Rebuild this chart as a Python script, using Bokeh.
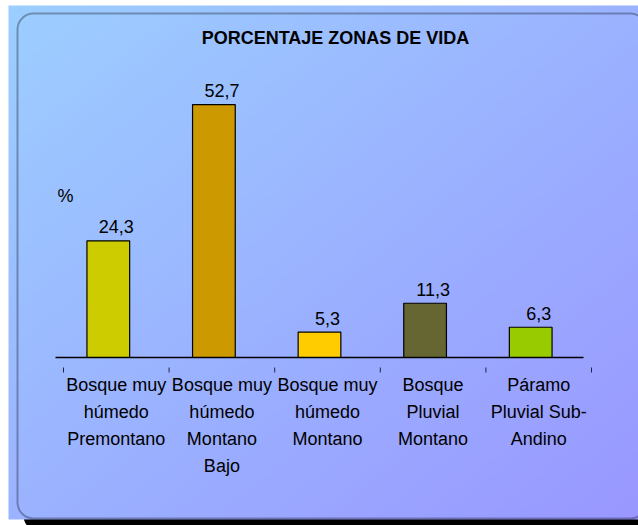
import numpy as np
from bokeh.plotting import figure
from bokeh.models import Range1d, BoxAnnotation, Label, ColumnDataSource
from bokeh.core.properties import value
from bokeh.embed import file_html
from bokeh.resources import INLINE

# ---- data ----
categories = [
    "Bosque muy\nhúmedo\nPremontano",
    "Bosque muy\nhúmedo\nMontano\nBajo",
    "Bosque muy\nhúmedo\nMontano",
    "Bosque\nPluvial\nMontano",
    "Páramo\nPluvial Sub-\nAndino",
]
percentages = [24.3, 52.7, 5.3, 11.3, 6.3]
bar_colors = ["#CCCC00", "#CC9900", "#FFCC00", "#666633", "#99CC00"]
title_text = "PORCENTAJE ZONAS DE VIDA"
unit_label = "%"

# ---- layout constants (canvas pixels) ----
W, H = 638, 525
X0, XS = 55.0, 105.6     # canvas x of first category boundary, px per category
Y0, YS = 357.0, 4.8      # canvas y of value 0, px per unit
FONT = "Liberation Sans"


def px2x(cx):
    return (cx - X0) / XS


def px2y(cy):
    return (Y0 - cy) / YS


p = figure(width=W, height=H, output_backend="svg", toolbar_location=None,
           x_axis_type=None, y_axis_type=None, title=None, min_border=0,
           x_range=Range1d(px2x(0), px2x(W)), y_range=Range1d(px2y(H), px2y(0)))
p.outline_line_color = None
p.background_fill_color = "white"
p.border_fill_color = "white"

# shadow of the rounded panel
shadow = BoxAnnotation(left=px2x(23), right=px2x(W + 30), top=px2y(19), bottom=px2y(H + 6),
                       fill_color="black", fill_alpha=1.0, line_color=None,
                       border_radius=16, level="underlay")
p.add_layout(shadow)

# gradient background
GW, GH = 160, 160
c_tl = np.array([0x9C, 0xCE, 0xFF], dtype=float)
c_br = np.array([0x99, 0x97, 0xFF], dtype=float)
u = np.linspace(0, 1, GW)[None, :]
v_top = 1 - np.linspace(0, 1, GH)[:, None]   # row 0 is bottom
t = (u + v_top) / 2.0
img = np.zeros((GH, GW), dtype=np.uint32)
view = img.view(dtype=np.uint8).reshape((GH, GW, 4))
for k in range(3):
    view[:, :, k] = np.round(c_tl[k] + (c_br[k] - c_tl[k]) * t).astype(np.uint8)
view[:, :, 3] = 255
g_left, g_top, g_bottom = 8, 5, 519
p.image_rgba(image=[img], x=px2x(g_left), y=px2y(g_bottom),
             dw=px2x(W) - px2x(g_left), dh=px2y(g_top) - px2y(g_bottom))

# panel border
border = BoxAnnotation(left=px2x(17), right=px2x(W + 8), top=px2y(13), bottom=px2y(518),
                       fill_alpha=0.0, line_color="black", line_width=2,
                       border_radius=16)
p.add_layout(border)

n = len(categories)
centers = [i + 0.5 for i in range(n)]
labels = [f"{v:.1f}".replace(".", ",") for v in percentages]
label_y = [v + 14 / YS for v in percentages]
src = ColumnDataSource(dict(x=centers, top=percentages, color=bar_colors,
                            label=labels, label_y=label_y, cat=categories))

# bars
p.vbar(x="x", top="top", bottom=0, width=42.7 / XS, source=src,
       fill_color="color", line_color="black", line_width=1.2)

# axis line
p.segment(x0=[0], y0=[0], x1=[n], y1=[0], line_color="black", line_width=1.5)

# tick marks (offset like the original)
tick_x = [i + 8 / XS for i in range(n + 1)]
p.segment(x0=tick_x, y0=[-10 / YS] * (n + 1), x1=tick_x, y1=[-15 / YS] * (n + 1),
          line_color="#222244", line_width=1)

# value labels
p.text(x="x", y="label_y", text="label", source=src, x_offset=8,
       text_align="center", text_baseline="alphabetic",
       text_font=value(FONT), text_font_size="18px", text_color="black")

# category labels
p.text(x="x", y=-17 / YS, text="cat", source=src, x_offset=8,
       text_align="center", text_baseline="top", text_line_height=1.35,
       text_font=value(FONT), text_font_size="18px", text_color="black")

# title
p.add_layout(Label(x=px2x(335), y=px2y(37), text=title_text, text_align="center",
                   text_baseline="middle", text_font=FONT, text_font_size="18px",
                   text_font_style="bold", text_color="black"))

# unit label
p.add_layout(Label(x=px2x(65), y=px2y(195), text=unit_label, text_align="center",
                   text_baseline="middle", text_font=FONT, text_font_size="18px",
                   text_color="black"))

open("out.html", "w").write(file_html(p, INLINE))
